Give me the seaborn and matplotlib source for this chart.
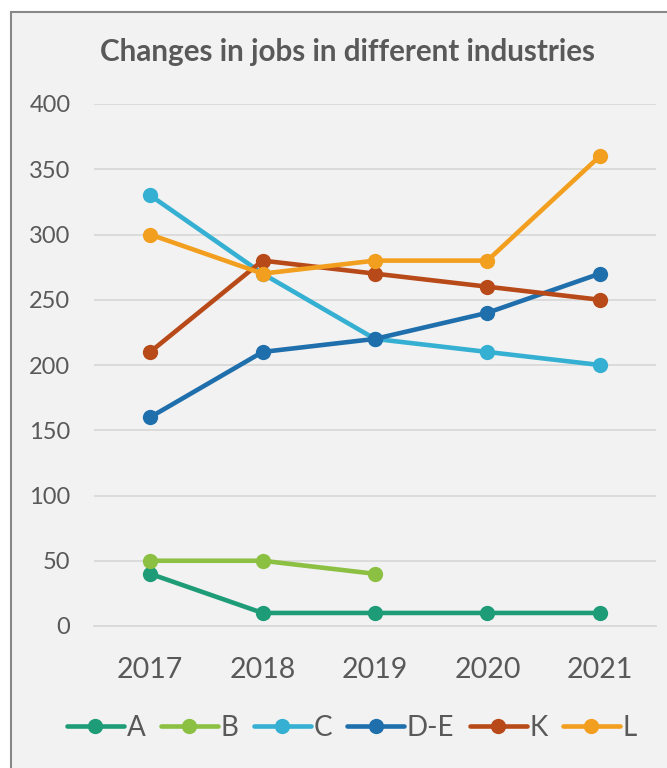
import matplotlib
matplotlib.use("Agg")
import matplotlib.pyplot as plt
import seaborn as sns
import pandas as pd
import numpy as np
from matplotlib.patches import Rectangle

years = [2017, 2018, 2019, 2020, 2021]
series_names = ["A", "B", "C", "D-E", "K", "L"]
A = [40, 10, 10, 10, 10]
B = [50, 50, 40, np.nan, np.nan]
C = [330, 270, 220, 210, 200]
DE = [160, 210, 220, 240, 270]
K = [210, 280, 270, 260, 250]
L = [300, 270, 280, 280, 360]
colors = ["#1e9c77", "#8bc043", "#35b0d2", "#1f6fac", "#b84a19", "#f29e1e"]

values = [A, B, C, DE, K, L]
rows = []
for name, vals in zip(series_names, values):
    for y, v in zip(years, vals):
        if not np.isnan(v):
            rows.append({"Year": y, "Value": v, "Series": name})
df = pd.DataFrame(rows)

sns.set_theme(style="white")
plt.rcParams["font.family"] = ["Lato", "DejaVu Sans"]

fig = plt.figure(figsize=(6.67, 7.68), dpi=100, facecolor="white")
bg = Rectangle((11 / 667, -0.01), 1.0, 1 - 12 / 768 + 0.01, transform=fig.transFigure,
               facecolor="#f2f2f2", edgecolor="#888888", linewidth=1.5, zorder=-10)
fig.patches.append(bg)

ax = fig.add_axes([94 / 667, 1 - 626 / 768, (656 - 94) / 667, (626 - 104) / 768])
ax.set_facecolor("none")

sns.lineplot(data=df, x="Year", y="Value", hue="Series", hue_order=series_names,
             palette=colors, marker="o", markersize=11, linewidth=3.3,
             markeredgewidth=0, ax=ax, legend=True, zorder=3)

ax.set_xlim(2016.5, 2021.5)
ax.set_ylim(0, 400)
ax.set_xticks(years)
ax.set_xticklabels([str(y) for y in years])
ax.set_yticks(range(0, 401, 50))
ax.yaxis.grid(True, color="#d9d9d9", linewidth=1.3)
ax.xaxis.grid(False)
for s in ["top", "right", "left"]:
    ax.spines[s].set_visible(False)
ax.spines["bottom"].set_color("#d9d9d9")
ax.spines["bottom"].set_linewidth(1.3)
ax.tick_params(axis="both", length=0, colors="#595959")
ax.tick_params(axis="x", labelsize=20.5, pad=22)
ax.tick_params(axis="y", labelsize=17, pad=17)
ax.set_xlabel("")
ax.set_ylabel("")

fig.text(348 / 667, 1 - 52 / 768, "Changes in jobs in different industries",
         ha="center", va="center", fontsize=21.3, fontweight="bold", color="#595959")

handles, labels = ax.get_legend_handles_labels()
ax.legend_.remove()
leg = fig.legend(handles, labels, loc="center", bbox_to_anchor=(352 / 667, 1 - 728 / 768),
                 ncol=6, frameon=False, fontsize=20, handlelength=2.05, handletextpad=0.1,
                 columnspacing=0.55, labelcolor="#595959", borderpad=0)

fig.savefig("out.png", dpi=100, facecolor="white")
